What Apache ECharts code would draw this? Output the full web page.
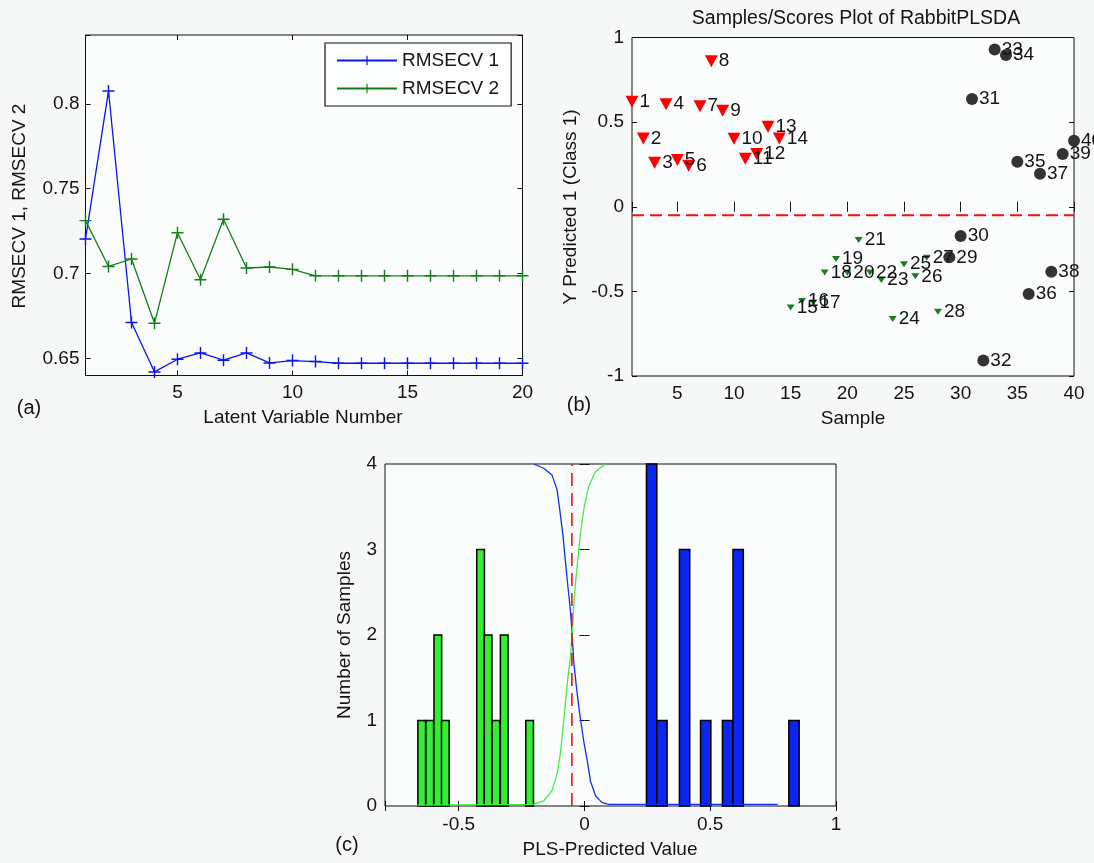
<!DOCTYPE html>
<html>
<head>
<meta charset="utf-8">
<script src="https://cdn.jsdelivr.net/npm/echarts@6/dist/echarts.min.js"></script>
<style>
html,body{margin:0;padding:0;background:#fff;}
#chart{width:1094px;height:863px;}
</style>
</head>
<body>
<div id="chart"></div>
<script>
// ---------- Panel (a): RMSECV vs latent variable ----------
const latentVars = [1,2,3,4,5,6,7,8,9,10,11,12,13,14,15,16,17,18,19,20];
const rmsecv1 = [0.7204,0.8075,0.6712,0.6421,0.6496,0.6533,0.6490,0.6533,0.6474,0.6488,0.6482,0.6472,0.6472,0.6472,0.6472,0.6472,0.6472,0.6472,0.6472,0.6472];
const rmsecv2 = [0.7312,0.7042,0.7086,0.6708,0.7241,0.6964,0.7320,0.7033,0.7039,0.7025,0.6987,0.6987,0.6987,0.6987,0.6987,0.6987,0.6987,0.6987,0.6987,0.6987];

// ---------- Panel (b): samples / scores ----------
const samples = [1,2,3,4,5,6,7,8,9,10,11,12,13,14,15,16,17,18,19,20,21,22,23,24,25,26,27,28,29,30,31,32,33,34,35,36,37,38,39,40];
const yPredicted = [0.62,0.403,0.26,0.606,0.276,0.242,0.594,0.86,0.567,0.402,0.283,0.311,0.472,0.403,
  -0.595,-0.557,-0.565,-0.388,-0.309,-0.39,-0.197,-0.388,-0.433,-0.663,-0.339,-0.411,-0.301,-0.62,
  -0.299,-0.173,0.636,-0.909,0.929,0.896,0.266,-0.516,0.195,-0.384,0.311,0.39];
const sampleClass = [1,1,1,1,1,1,1,1,1,1,1,1,1,1,2,2,2,2,2,2,2,2,2,2,2,2,2,2,3,3,3,3,3,3,3,3,3,3,3,3];
const threshold = -0.05;

// ---------- Panel (c): histogram of PLS predicted values ----------
const greenBinCenters = [-0.647,-0.615,-0.583,-0.553,-0.413,-0.383,-0.352,-0.319,-0.218];
const greenCounts = [1,1,2,1,3,2,1,2,1];
const greenBinWidth = 0.0305;
const blueBinCenters = [0.267,0.308,0.398,0.482,0.569,0.611,0.833];
const blueCounts = [4,1,3,1,1,3,1];
const blueBinWidth = 0.041;
const blueCurveX = [-0.202,-0.162,-0.129,-0.109,-0.098,-0.085,-0.076,-0.067,-0.056,-0.049,-0.043,-0.032,-0.019,-0.003,0.011,0.024,0.044,0.070,0.097,0.768];
const blueCurveY = [4.0,3.95,3.87,3.70,3.46,3.15,2.87,2.60,2.29,2.01,1.70,1.39,1.08,0.76,0.53,0.29,0.12,0.04,0.02,0.02];
const greenCurveX = [-0.664,-0.202,-0.162,-0.129,-0.109,-0.096,-0.085,-0.076,-0.067,-0.056,-0.049,-0.043,-0.036,-0.027,-0.016,-0.001,0.016,0.043,0.083];
const greenCurveY = [0.01,0.02,0.06,0.18,0.37,0.61,0.92,1.2,1.47,1.74,2.01,2.33,2.6,2.87,3.19,3.5,3.73,3.91,4.0];

const FONT = 'Liberation Sans, Arial, sans-serif';
const FS = 19;
const TXT = '#141414';
const PLUS = 'path://M4.4,0H5.6V4.4H10V5.6H5.6V10H4.4V5.6H0V4.4H4.4Z';

function isMultiple(v, step){ return Math.abs(v/step - Math.round(v/step)) < 1e-6; }

function mainAxis(gridIndex, pos, opt, step, margin){
  return Object.assign({
    type:'value', gridIndex, position:pos,
    axisLine:{show:false},
    axisTick:{show:true, inside:true, length:5, lineStyle:{color:'#111', width:1}},
    splitLine:{show:false},
    axisLabel:{show:true, color:TXT, fontFamily:FONT, fontSize:FS, margin:margin,
      formatter: v => isMultiple(v, step) ? String(+v.toFixed(4)) : ''}
  }, opt);
}
function mirrorAxis(gridIndex, pos, opt){
  return Object.assign({
    type:'value', gridIndex, position:pos,
    axisLine:{show:false},
    axisTick:{show:true, inside:true, length:5, lineStyle:{color:'#111', width:1}},
    splitLine:{show:false},
    axisLabel:{show:false}
  }, opt);
}

const axA_x = {min:1, max:20, splitNumber:4};
const axA_y = {min:0.64, max:0.8405, splitNumber:4};
const axB_x = {min:1, max:40, splitNumber:8};
const axB_y = {min:-1, max:1, interval:0.5};
const axC_x = {min:-0.793, max:1, splitNumber:4};
const axC_y = {min:0, max:4, interval:1};

const gridStyle = {show:true, backgroundColor:'#fbfcfc', borderColor:'#111', borderWidth:1};

const scatterData = (cls) => samples.map((s,i)=>[s, yPredicted[i], sampleClass[i]]).filter(d=>d[2]===cls);
const labelCfg = (dist) => ({show:true, position:'right', distance:dist, color:TXT, opacity:1, fontFamily:FONT, fontSize:FS,
  formatter: p => String(p.value[0])});

function histItem(fill){
  return function(params, api){
    const c = api.value(0), n = api.value(1), w = api.value(2);
    const p0 = api.coord([c - w/2, 0]);
    const p1 = api.coord([c + w/2, n]);
    return {type:'rect', shape:{x:p0[0], y:p1[1], width:p1[0]-p0[0], height:p0[1]-p1[1]},
      style:{fill:fill, stroke:'#000', lineWidth:1.5}};
  };
}

function txt(text, x, y, size, rot){
  const el = {type:'text', x:x, y:y, style:{text:text, x:0, y:0, font:size+'px '+FONT, fill:TXT, textAlign:'center', textVerticalAlign:'middle'}};
  if (rot) el.rotation = rot;
  return el;
}

const chart = echarts.init(document.getElementById('chart'), null, {renderer:'canvas'});
chart.setOption({
  backgroundColor:'#f6f8f8',
  animation:false,
  grid:[
    Object.assign({left:85.5, top:35, width:437, height:340.5}, gridStyle),
    Object.assign({left:632, top:37.5, width:442, height:338.5}, gridStyle),
    Object.assign({left:385, top:464, width:451, height:342}, gridStyle)
  ],
  xAxis:[
    mainAxis(0,'bottom',axA_x,5,8),
    mainAxis(1,'bottom',axB_x,5,8),
    mainAxis(2,'bottom',axC_x,0.5,9),
    mirrorAxis(0,'top',axA_x),
    mirrorAxis(1,'top',axB_x),
    mirrorAxis(2,'top',axC_x)
  ],
  yAxis:[
    mainAxis(0,'left',axA_y,0.05,6),
    mainAxis(1,'left',axB_y,0.5,8),
    mainAxis(2,'left',axC_y,1,8),
    mirrorAxis(0,'right',axA_y),
    mirrorAxis(1,'right',axB_y),
    mirrorAxis(2,'right',axC_y)
  ],
  legend:{
    data:['RMSECV 1','RMSECV 2'], orient:'vertical', left:325, top:43,
    padding:[8,12,8,11], itemGap:9, itemWidth:60, itemHeight:12,
    backgroundColor:'#fdfefe', borderColor:'#111', borderWidth:1.2, borderRadius:0,
    textStyle:{color:TXT, fontFamily:FONT, fontSize:FS}
  },
  title:{text:'Samples/Scores Plot of RabbitPLSDA', left:851, top:4, textAlign:'center',
    textStyle:{color:TXT, fontFamily:FONT, fontSize:19.5, fontWeight:'normal'}},
  graphic:[
    txt('RMSECV 1, RMSECV 2', 20, 206, FS, Math.PI/2),
    txt('Latent Variable Number', 303, 418, FS),
    txt('(a)', 29, 408, 20),
    txt('Y Predicted 1 (Class 1)', 571, 207, FS, Math.PI/2),
    txt('Sample', 853, 419, FS),
    txt('(b)', 579, 405, 20),
    txt('Number of Samples', 345, 635, FS, Math.PI/2),
    txt('PLS-Predicted Value', 610, 850, FS),
    txt('(c)', 347, 845, 20)
  ],
  series:[
    // (a)
    {name:'RMSECV 1', type:'line', xAxisIndex:0, yAxisIndex:0, clip:false,
      data: latentVars.map((x,i)=>[x, rmsecv1[i]]),
      symbol:PLUS, symbolSize:12, showAllSymbol:true,
      lineStyle:{color:'#0a14f0', width:1.3}, itemStyle:{color:'#0a14f0', opacity:1}},
    {name:'RMSECV 2', type:'line', xAxisIndex:0, yAxisIndex:0, clip:false,
      data: latentVars.map((x,i)=>[x, rmsecv2[i]]),
      symbol:PLUS, symbolSize:12, showAllSymbol:true,
      lineStyle:{color:'#12801a', width:1.3}, itemStyle:{color:'#12801a', opacity:1}},
    // (b)
    {type:'line', xAxisIndex:1, yAxisIndex:1, data:[[1,threshold],[40,threshold]], symbol:'none',
      lineStyle:{color:'#f01010', width:2, type:[12,6]}, z:1},
    {type:'scatter', xAxisIndex:1, yAxisIndex:1, data:scatterData(1), symbol:'triangle', symbolRotate:180,
      symbolSize:[13,12], itemStyle:{color:'#ff0000', opacity:1}, label:labelCfg(1), clip:false, z:3},
    {type:'scatter', xAxisIndex:1, yAxisIndex:1, data:scatterData(2), symbol:'triangle', symbolRotate:180,
      symbolSize:[8,6], itemStyle:{color:'#17801d', opacity:1}, label:labelCfg(2), clip:false, z:3},
    {type:'scatter', xAxisIndex:1, yAxisIndex:1, data:scatterData(3), symbol:'circle',
      symbolSize:12, itemStyle:{color:'#333333', opacity:1}, label:labelCfg(1), clip:false, z:3},
    // (c)
    {type:'custom', xAxisIndex:2, yAxisIndex:2, renderItem:histItem('#33ee33'),
      encode:{x:0, y:1}, data: greenBinCenters.map((c,i)=>[c, greenCounts[i], greenBinWidth]), z:2},
    {type:'custom', xAxisIndex:2, yAxisIndex:2, renderItem:histItem('#0a26f0'),
      encode:{x:0, y:1}, data: blueBinCenters.map((c,i)=>[c, blueCounts[i], blueBinWidth]), z:2},
    {type:'line', xAxisIndex:2, yAxisIndex:2, data: blueCurveX.map((x,i)=>[x, blueCurveY[i]]), symbol:'none',
      lineStyle:{color:'#1030f0', width:1.3}, z:3},
    {type:'line', xAxisIndex:2, yAxisIndex:2, data: greenCurveX.map((x,i)=>[x, greenCurveY[i]]), symbol:'none',
      lineStyle:{color:'#44ee44', width:1.3}, z:3},
    {type:'line', xAxisIndex:2, yAxisIndex:2, data:[[threshold,0],[threshold,4]], symbol:'none',
      lineStyle:{color:'#f01010', width:1.6, type:[13,7]}, z:4}
  ]
});
</script>
</body>
</html>
